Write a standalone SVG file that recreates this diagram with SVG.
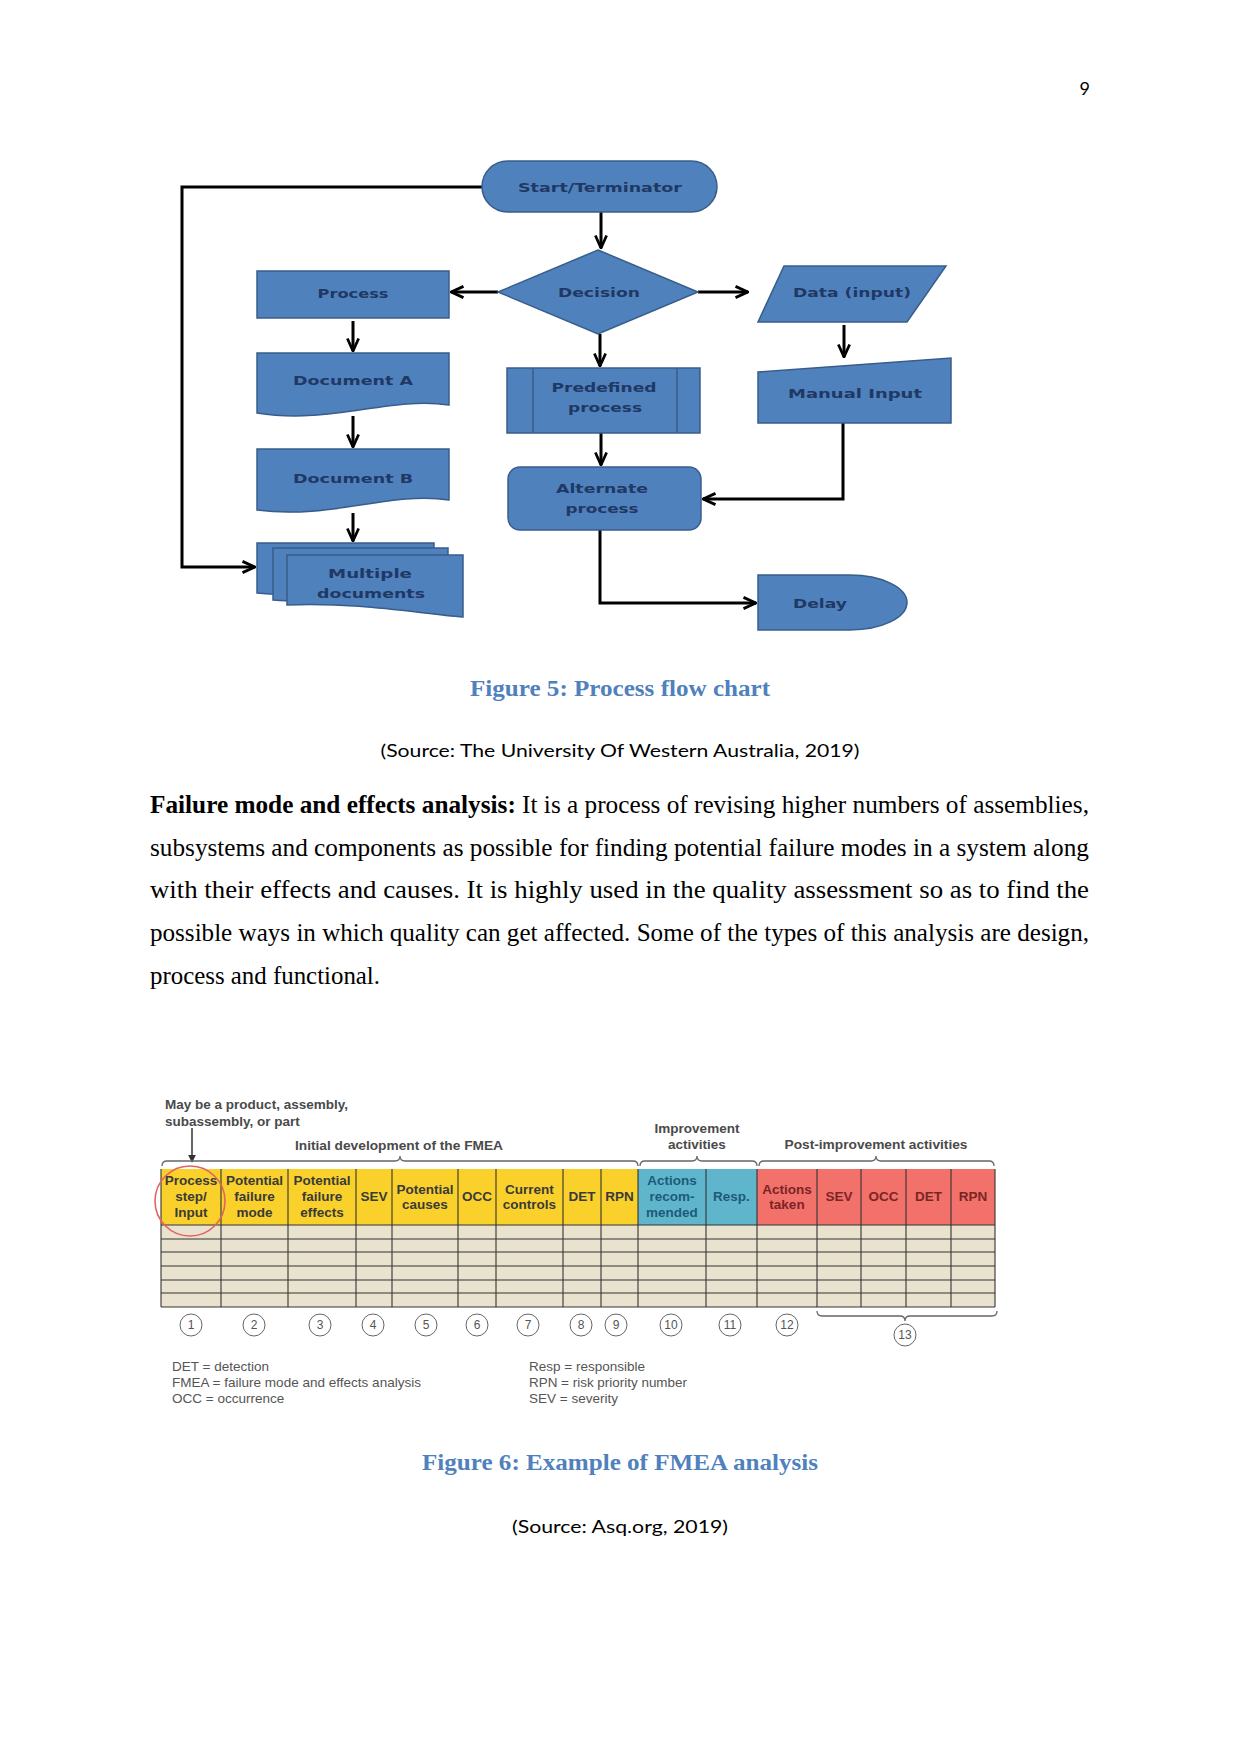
<svg xmlns="http://www.w3.org/2000/svg" width="1241" height="1754" viewBox="0 0 1241 1754">
<defs>
<marker id="arr" viewBox="0 0 12 12" refX="11" refY="6" markerWidth="15" markerHeight="15" markerUnits="userSpaceOnUse" orient="auto">
<path d="M1,1.5 L11,6 L1,10.5" fill="none" stroke="#000" stroke-width="2.2"/>
</marker>
<marker id="tri" viewBox="0 0 10 10" refX="9" refY="5" markerWidth="8" markerHeight="8" markerUnits="userSpaceOnUse" orient="auto">
<path d="M0,0 L10,5 L0,10 Z" fill="#333"/>
</marker>
<style>
.shape{fill:#4F81BD;stroke:#385D8A;stroke-width:1.5}
.lbl{font-family:"DejaVu Sans",sans-serif;font-weight:bold;font-size:13px;fill:#1F3864;text-anchor:middle}
.conn{fill:none;stroke:#000;stroke-width:3}
.cap{font-family:"Liberation Serif",serif;font-weight:bold;font-size:24px;fill:#4F81BD;text-anchor:middle}
.src{font-family:Lato,"Liberation Sans",sans-serif;font-size:18px;fill:#000;text-anchor:middle}
.para{font-family:"Liberation Serif",serif;font-size:25px;fill:#000}
.hy{fill:#F9D12A}
.hb{fill:#5FB6CC}
.hr{fill:#F2716A}
.ht{font-family:"Liberation Sans",sans-serif;font-weight:bold;font-size:13.5px;text-anchor:middle}
.ty{fill:#3A3A3A}
.tb{fill:#1E5A78}
.tr{fill:#7A2525}
.grid{stroke:#333;stroke-width:1.1}
.note{font-family:"Liberation Sans",sans-serif;font-weight:bold;font-size:13.5px;fill:#4A4A4A}
.brk{fill:none;stroke:#666;stroke-width:1.3}
.num{fill:none;stroke:#666;stroke-width:1}
.numt{font-family:"Liberation Sans",sans-serif;font-size:12px;fill:#555;text-anchor:middle}
.leg{font-family:"Liberation Sans",sans-serif;font-size:13.5px;fill:#555}
</style>
</defs>
<rect width="1241" height="1754" fill="#fff"/>

<text x="1090" y="95" font-family="Lato,'Liberation Sans',sans-serif" font-size="18" text-anchor="end">9</text>

<!-- Flowchart connectors -->
<g id="connectors">
<path class="conn" d="M601,212 V248" marker-end="url(#arr)"/>
<path class="conn" d="M498,292 H451" marker-end="url(#arr)"/>
<path class="conn" d="M698,292 H748" marker-end="url(#arr)"/>
<path class="conn" d="M600,334 V366" marker-end="url(#arr)"/>
<path class="conn" d="M601,433 V465" marker-end="url(#arr)"/>
<path class="conn" d="M844,325 V357" marker-end="url(#arr)"/>
<path class="conn" d="M843,423 V499 H703" marker-end="url(#arr)"/>
<path class="conn" d="M600,530 V603 H756" marker-end="url(#arr)"/>
<path class="conn" d="M353,321 V351" marker-end="url(#arr)"/>
<path class="conn" d="M353,416 V447" marker-end="url(#arr)"/>
<path class="conn" d="M353,513 V541" marker-end="url(#arr)"/>
<path class="conn" d="M482,187 H182 V567 H255" marker-end="url(#arr)"/>
</g>

<g id="start">
<rect class="shape" x="482" y="161" width="235" height="51" rx="25.5"/>
<text class="lbl" x="600" y="192" textLength="164" lengthAdjust="spacingAndGlyphs">Start/Terminator</text>
</g>
<g id="decision">
<polygon class="shape" points="598,250 698,292 598,334 498,292"/>
<text class="lbl" x="599" y="297" textLength="82" lengthAdjust="spacingAndGlyphs">Decision</text>
</g>
<g id="process">
<rect class="shape" x="257" y="271" width="192" height="47"/>
<text class="lbl" x="353" y="298" textLength="71" lengthAdjust="spacingAndGlyphs">Process</text>
</g>
<g id="data">
<polygon class="shape" points="784,266 946,266 907,322 758,322"/>
<text class="lbl" x="852" y="297" textLength="118" lengthAdjust="spacingAndGlyphs">Data (input)</text>
</g>
<g id="manual">
<polygon class="shape" points="758,372 951,358 951,423 758,423"/>
<text class="lbl" x="855" y="398" textLength="134" lengthAdjust="spacingAndGlyphs">Manual Input</text>
</g>
<g id="predefined">
<rect class="shape" x="507" y="368" width="193" height="65"/>
<line x1="533" y1="368" x2="533" y2="433" stroke="#385D8A" stroke-width="1.5"/>
<line x1="677" y1="368" x2="677" y2="433" stroke="#385D8A" stroke-width="1.5"/>
<text class="lbl" x="604" y="392" textLength="105" lengthAdjust="spacingAndGlyphs">Predefined</text>
<text class="lbl" x="605" y="412" textLength="74" lengthAdjust="spacingAndGlyphs">process</text>
</g>
<g id="alternate">
<rect class="shape" x="508" y="467" width="193" height="63" rx="12"/>
<text class="lbl" x="602" y="493" textLength="92" lengthAdjust="spacingAndGlyphs">Alternate</text>
<text class="lbl" x="602" y="513" textLength="73" lengthAdjust="spacingAndGlyphs">process</text>
</g>
<g id="delay">
<path class="shape" d="M758,575 H850 A57,27.5 0 0 1 850,630 H758 Z"/>
<text class="lbl" x="820" y="608" textLength="54" lengthAdjust="spacingAndGlyphs">Delay</text>
</g>
<g id="docA">
<path class="shape" d="M257,353 H449 V405 C390,396 330,425 257,413 Z"/>
<text class="lbl" x="353" y="385" textLength="120" lengthAdjust="spacingAndGlyphs">Document A</text>
</g>
<g id="docB">
<path class="shape" d="M257,449 H449 V500 C390,491 330,520 257,510 Z"/>
<text class="lbl" x="353" y="483" textLength="120" lengthAdjust="spacingAndGlyphs">Document B</text>
</g>
<g id="multi">
<path class="shape" d="M257,543 H434 V590 C400,588 300,598 257,593 Z"/>
<path class="shape" d="M273,548 H448 V598 C410,596 320,604 273,600 Z"/>
<path class="shape" d="M287,555 H463 V617 C420,614 360,602 287,605 Z"/>
<text class="lbl" x="370" y="578" textLength="84" lengthAdjust="spacingAndGlyphs">Multiple</text>
<text class="lbl" x="371" y="598" textLength="108" lengthAdjust="spacingAndGlyphs">documents</text>
</g>

<text class="cap" x="620" y="696" textLength="300" lengthAdjust="spacingAndGlyphs">Figure 5: Process flow chart</text>
<text class="src" x="620" y="757" textLength="479" lengthAdjust="spacingAndGlyphs">(Source: The University Of Western Australia, 2019)</text>

<text class="para" x="150" y="813" textLength="939" lengthAdjust="spacingAndGlyphs"><tspan font-weight="bold">Failure mode and effects analysis:</tspan> It is a process of revising higher numbers of assemblies,</text>
<text class="para" x="150" y="856" textLength="939" lengthAdjust="spacingAndGlyphs">subsystems and components as possible for finding potential failure modes in a system along</text>
<text class="para" x="150" y="898" textLength="939" lengthAdjust="spacingAndGlyphs">with their effects and causes. It is highly used in the quality assessment so as to find the</text>
<text class="para" x="150" y="941" textLength="939" lengthAdjust="spacingAndGlyphs">possible ways in which quality can get affected. Some of the types of this analysis are design,</text>
<text class="para" x="150" y="984" textLength="230" lengthAdjust="spacingAndGlyphs">process and functional.</text>

<!-- FMEA figure -->
<g id="fmea">
<text class="note" x="165" y="1109" textLength="183" lengthAdjust="spacingAndGlyphs">May be a product, assembly,</text>
<text class="note" x="165" y="1126">subassembly, or part</text>
<line x1="192" y1="1128" x2="192" y2="1162" stroke="#333" stroke-width="1.5" marker-end="url(#tri)"/>
<text class="note" x="399" y="1150" text-anchor="middle" textLength="208" lengthAdjust="spacingAndGlyphs">Initial development of the FMEA</text>
<text class="note" x="697" y="1133" text-anchor="middle">Improvement</text>
<text class="note" x="697" y="1149" text-anchor="middle">activities</text>
<text class="note" x="876" y="1149" text-anchor="middle" textLength="183" lengthAdjust="spacingAndGlyphs">Post-improvement activities</text>
<path class="brk" d="M162,1166 Q162,1161 167,1161 H395 Q400,1161 400,1156 Q400,1161 405,1161 H633 Q638,1161 638,1166"/>
<path class="brk" d="M640,1166 Q640,1161 645,1161 H692 Q697,1161 697,1156 Q697,1161 702,1161 H752 Q757,1161 757,1166"/>
<path class="brk" d="M759,1166 Q759,1161 764,1161 H871 Q876,1161 876,1156 Q876,1161 881,1161 H989 Q994,1161 994,1166"/>

<rect class="hy" x="161" y="1169" width="477" height="56"/>
<rect class="hb" x="638" y="1169" width="119" height="56"/>
<rect class="hr" x="757" y="1169" width="238" height="56"/>
<rect x="161" y="1225" width="834" height="82" fill="#E8E2CE"/>
<g class="grid">
<line x1="161" y1="1225" x2="995" y2="1225"/>
<line x1="161" y1="1239" x2="995" y2="1239"/>
<line x1="161" y1="1252" x2="995" y2="1252"/>
<line x1="161" y1="1266" x2="995" y2="1266"/>
<line x1="161" y1="1280" x2="995" y2="1280"/>
<line x1="161" y1="1293" x2="995" y2="1293"/>
<line x1="161" y1="1307" x2="995" y2="1307"/>
<line x1="161" y1="1169" x2="161" y2="1307"/>
<line x1="221" y1="1169" x2="221" y2="1307"/>
<line x1="288" y1="1169" x2="288" y2="1307"/>
<line x1="356" y1="1169" x2="356" y2="1307"/>
<line x1="392" y1="1169" x2="392" y2="1307"/>
<line x1="458" y1="1169" x2="458" y2="1307"/>
<line x1="496" y1="1169" x2="496" y2="1307"/>
<line x1="563" y1="1169" x2="563" y2="1307"/>
<line x1="601" y1="1169" x2="601" y2="1307"/>
<line x1="638" y1="1169" x2="638" y2="1307"/>
<line x1="706" y1="1169" x2="706" y2="1307"/>
<line x1="757" y1="1169" x2="757" y2="1307"/>
<line x1="817" y1="1169" x2="817" y2="1307"/>
<line x1="861" y1="1169" x2="861" y2="1307"/>
<line x1="906" y1="1169" x2="906" y2="1307"/>
<line x1="951" y1="1169" x2="951" y2="1307"/>
<line x1="995" y1="1169" x2="995" y2="1307"/>
</g>

<g class="ht ty">
<text x="191" y="1185">Process</text><text x="191" y="1201">step/</text><text x="191" y="1217">Input</text>
<text x="254.5" y="1185">Potential</text><text x="254.5" y="1201">failure</text><text x="254.5" y="1217">mode</text>
<text x="322" y="1185">Potential</text><text x="322" y="1201">failure</text><text x="322" y="1217">effects</text>
<text x="374" y="1201">SEV</text>
<text x="425" y="1194">Potential</text><text x="425" y="1209">causes</text>
<text x="477" y="1201">OCC</text>
<text x="529.5" y="1194">Current</text><text x="529.5" y="1209">controls</text>
<text x="582" y="1201">DET</text>
<text x="619.5" y="1201">RPN</text>
</g>
<g class="ht tb">
<text x="672" y="1185">Actions</text><text x="672" y="1201">recom-</text><text x="672" y="1217">mended</text>
<text x="731.5" y="1201">Resp.</text>
</g>
<g class="ht tr">
<text x="787" y="1194">Actions</text><text x="787" y="1209">taken</text>
<text x="839" y="1201">SEV</text>
<text x="883.5" y="1201">OCC</text>
<text x="928.5" y="1201">DET</text>
<text x="973" y="1201">RPN</text>
</g>
<circle cx="190" cy="1201" r="35" fill="none" stroke="#E06464" stroke-width="1.6"/>

<path class="brk" d="M817,1311 Q817,1316 822,1316 H900 Q905,1316 905,1321 Q905,1316 910,1316 H992 Q997,1316 997,1311"/>
<g>
<circle class="num" cx="191" cy="1325" r="11"/><text class="numt" x="191" y="1329">1</text>
<circle class="num" cx="254" cy="1325" r="11"/><text class="numt" x="254" y="1329">2</text>
<circle class="num" cx="320" cy="1325" r="11"/><text class="numt" x="320" y="1329">3</text>
<circle class="num" cx="373" cy="1325" r="11"/><text class="numt" x="373" y="1329">4</text>
<circle class="num" cx="426" cy="1325" r="11"/><text class="numt" x="426" y="1329">5</text>
<circle class="num" cx="477" cy="1325" r="11"/><text class="numt" x="477" y="1329">6</text>
<circle class="num" cx="528" cy="1325" r="11"/><text class="numt" x="528" y="1329">7</text>
<circle class="num" cx="581" cy="1325" r="11"/><text class="numt" x="581" y="1329">8</text>
<circle class="num" cx="616" cy="1325" r="11"/><text class="numt" x="616" y="1329">9</text>
<circle class="num" cx="671" cy="1325" r="11"/><text class="numt" x="671" y="1329">10</text>
<circle class="num" cx="730" cy="1325" r="11"/><text class="numt" x="730" y="1329">11</text>
<circle class="num" cx="787" cy="1325" r="11"/><text class="numt" x="787" y="1329">12</text>
<circle class="num" cx="905" cy="1335" r="11"/><text class="numt" x="905" y="1339">13</text>
</g>
<text class="leg" x="172" y="1371">DET = detection</text>
<text class="leg" x="172" y="1387" textLength="249" lengthAdjust="spacingAndGlyphs">FMEA = failure mode and effects analysis</text>
<text class="leg" x="172" y="1403">OCC = occurrence</text>
<text class="leg" x="529" y="1371">Resp = responsible</text>
<text class="leg" x="529" y="1387" textLength="158" lengthAdjust="spacingAndGlyphs">RPN = risk priority number</text>
<text class="leg" x="529" y="1403">SEV = severity</text>
</g>

<text class="cap" x="620" y="1470" textLength="396" lengthAdjust="spacingAndGlyphs">Figure 6: Example of FMEA analysis</text>
<text class="src" x="620" y="1533" textLength="216" lengthAdjust="spacingAndGlyphs">(Source: Asq.org, 2019)</text>
</svg>
